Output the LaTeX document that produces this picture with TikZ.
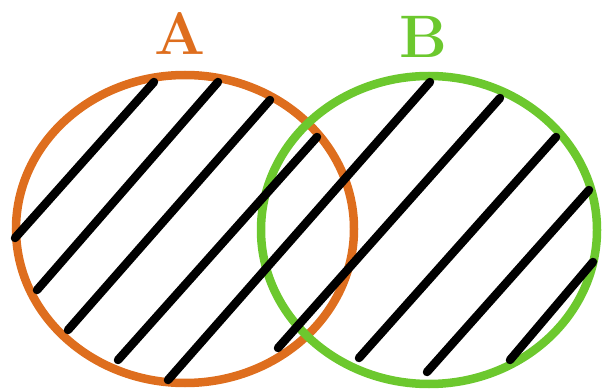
\documentclass[tikz,border=0pt]{standalone}
\usepackage{xcolor}
\usepackage{tikz}
\usetikzlibrary{positioning}
\definecolor{setorange}{RGB}{222,110,30}
\definecolor{setgreen}{RGB}{108,200,46}

\begin{document}
\begin{tikzpicture}[x=1pt, y=-1pt, ring/.style={line width=8.5pt}, hatch/.style={line width=8.5pt, line cap=round, black}, setlabel/.style={font=\fontsize{60}{60}\selectfont\bfseries, inner sep=0pt}]
\useasboundingbox (0,0) rectangle (605,390);
\draw[ring, setorange] (185,229) ellipse [x radius=169, y radius=154];
\draw[ring, setgreen] (429,230) ellipse [x radius=168, y radius=154];
\foreach \xa/\ya/\xb/\yb in {15/238/154/82, 37/290/218/82, 68/330/270/100, 118/360/317/137, 168/380/430/82, 278/348/500/98, 359/358/556/137, 427/372/589/190, 510/360/593/262}
  \draw[hatch] (\xa,\ya) -- (\xb,\yb);
\node[setlabel, text=setorange] (labA) at (180,34) {A};
\node[setlabel, text=setgreen] (labB) at (423,37) {B};
\end{tikzpicture}
\end{document}
